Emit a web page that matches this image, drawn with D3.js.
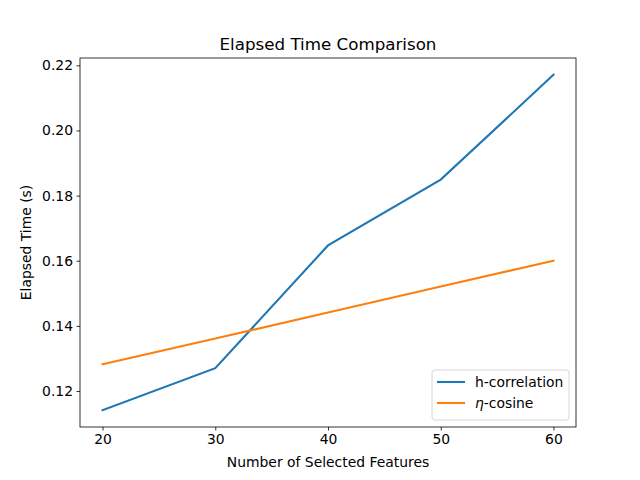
<!DOCTYPE html>
<html>
<head>
<meta charset="utf-8">
<script src="https://cdn.jsdelivr.net/npm/d3@7"></script>
<style>
  body { margin: 0; background: #fff; }
  text { font-family: "DejaVu Sans", sans-serif; fill: #000; }
</style>
</head>
<body>
<svg id="chart" width="640" height="480" viewBox="0 0 640 480"></svg>
<script>
const features = [20, 30, 40, 50, 60];
const hCorrelation = [0.1141, 0.1270, 0.1647, 0.1849, 0.2171];
const etaCosine = [0.1282, 0.1361, 0.1441, 0.1521, 0.1600];
const xTicks = [20, 30, 40, 50, 60];
const yTicks = [0.12, 0.14, 0.16, 0.18, 0.20, 0.22];
const seriesNames = ["h-correlation", "η-cosine"];
const seriesColors = ["#1f77b4", "#ff7f0e"];

const svg = d3.select("#chart");
const margin = { left: 80, right: 64, top: 58, bottom: 53 };
const width = 640, height = 480;
const plotW = width - margin.left - margin.right;
const plotH = height - margin.top - margin.bottom;

// matplotlib style 5% padding around data
const allY = hCorrelation.concat(etaCosine);
const yMin = d3.min(allY), yMax = d3.max(allY);
const yPad = (yMax - yMin) * 0.05;
const xPad = (d3.max(features) - d3.min(features)) * 0.05;

const x = d3.scaleLinear()
    .domain([d3.min(features) - xPad, d3.max(features) + xPad])
    .range([margin.left, margin.left + plotW]);
const y = d3.scaleLinear()
    .domain([yMin - yPad, yMax + yPad])
    .range([margin.top + plotH, margin.top]);

const xAxis = svg.append("g")
    .attr("transform", `translate(0, ${margin.top + plotH})`)
    .call(d3.axisBottom(x).tickValues(xTicks).tickSize(3.5).tickPadding(3.5).tickFormat(d3.format("d")));
const yAxis = svg.append("g")
    .attr("transform", `translate(${margin.left}, 0)`)
    .call(d3.axisLeft(y).tickValues(yTicks).tickSize(3.5).tickPadding(3.5).tickFormat(d3.format(".2f")));

[xAxis, yAxis].forEach(a => {
    a.select(".domain").remove();
    a.selectAll("line").attr("stroke", "#000").attr("stroke-width", 0.8);
    a.selectAll("text").style("font-size", "13.9px").style("font-family", "DejaVu Sans, sans-serif");
});

// frame
svg.append("rect")
    .attr("x", margin.left)
    .attr("y", margin.top)
    .attr("width", plotW)
    .attr("height", plotH)
    .attr("fill", "none")
    .attr("stroke", "#000")
    .attr("stroke-width", 0.8);

const line = d3.line()
    .x((d, i) => x(features[i]))
    .y(d => y(d));

[hCorrelation, etaCosine].forEach((values, k) => {
    svg.append("path")
        .datum(values)
        .attr("d", line)
        .attr("fill", "none")
        .attr("stroke", seriesColors[k])
        .attr("stroke-width", 2.1)
        .attr("stroke-linecap", "square");
});

svg.append("text")
    .attr("x", margin.left + plotW / 2)
    .attr("y", margin.top - 8)
    .attr("text-anchor", "middle")
    .style("font-size", "16.7px")
    .text("Elapsed Time Comparison");

svg.append("text")
    .attr("x", margin.left + plotW / 2)
    .attr("y", 467)
    .attr("text-anchor", "middle")
    .style("font-size", "13.9px")
    .text("Number of Selected Features");

svg.append("text")
    .attr("transform", `translate(31, ${margin.top + plotH / 2}) rotate(-90)`)
    .attr("text-anchor", "middle")
    .style("font-size", "13.9px")
    .text("Elapsed Time (s)");

// legend, lower right
const legend = svg.append("g")
    .attr("transform", `translate(432, 370)`);
legend.append("rect")
    .attr("width", 137)
    .attr("height", 50)
    .attr("rx", 3)
    .attr("fill", "#fff")
    .attr("fill-opacity", 0.8)
    .attr("stroke", "#ccc")
    .attr("stroke-width", 0.8);

seriesNames.forEach((name, i) => {
    const g = legend.append("g")
        .attr("transform", `translate(0, ${12 + i * 21})`);
    g.append("line")
        .attr("x1", 5).attr("x2", 33)
        .attr("y1", 0).attr("y2", 0)
        .attr("stroke", seriesColors[i])
        .attr("stroke-width", 2.1);
    const t = g.append("text")
        .attr("x", 43)
        .attr("y", 5)
        .style("font-size", "13.9px");
    if (i === 1) {
        t.append("tspan").style("font-style", "italic").text("η");
        t.append("tspan").text("-cosine");
    } else {
        t.text(name);
    }
});
</script>
</body>
</html>
